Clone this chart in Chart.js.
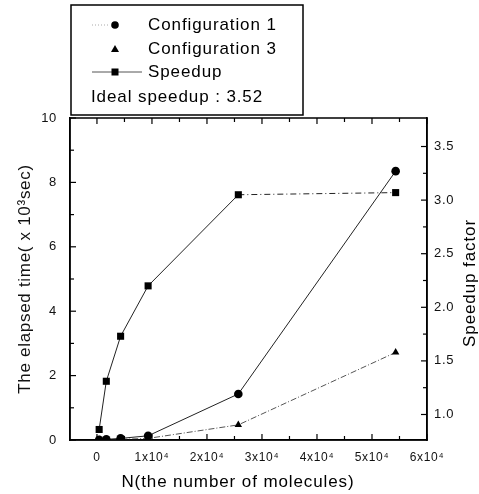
<!DOCTYPE html>
<html><head><meta charset="utf-8">
<script src="https://cdn.jsdelivr.net/npm/chart.js@4.4.0/dist/chart.umd.min.js"></script>
<style>html,body{margin:0;padding:0;background:#fff}#wrap{width:479px;height:494px}</style>
</head><body><div id="wrap"><canvas id="c" width="479" height="494"></canvas></div>
<script>
const molecules = [400, 1700, 4300, 9300, 25700, 54300];
const config1Time = [0.01, 0.02, 0.05, 0.13, 1.43, 8.35];
const config3Time = [0.005, 0.01, 0.02, 0.05, 0.47, 2.72];
const speedup = [0.86, 1.31, 1.73, 2.20, 3.05, 3.07];
const xTicks = [0, 10000, 20000, 30000, 40000, 50000, 60000];
const xMinorTicks = [5000, 15000, 25000, 35000, 45000, 55000];
const timeTicks = [0, 2, 4, 6, 8, 10];
const timeMinorTicks = [1, 3, 5, 7, 9];
const speedTicks = [1.0, 1.5, 2.0, 2.5, 3.0, 3.5];
const speedMinorTicks = [1.25, 1.75, 2.25, 2.75, 3.25];
const legendLabels = ['Configuration 1', 'Configuration 3', 'Speedup'];
const legendNote = 'Ideal speedup : 3.52';
const xTitle = 'N(the number of molecules)';
const yTitle = 'The elapsed time( x 10\u00B3sec)';
const y2Title = 'Speedup factor';

const FAMILY = '"Liberation Sans", Arial, Helvetica, sans-serif';
Chart.defaults.font.family = FAMILY;
Chart.defaults.color = '#111';

const pts = ys => molecules.map((x, i) => ({x, y: ys[i]}));

const decor = {
  id: 'decor',
  beforeDraw(chart) {
    chart.ctx.letterSpacing = '0.7px';
  },
  afterDraw(chart) {
    const ctx = chart.ctx;
    const a = chart.chartArea;
    const sx = chart.scales.x, sy = chart.scales.y, sy2 = chart.scales.y2;
    ctx.save();
    ctx.strokeStyle = '#000';
    ctx.fillStyle = '#000';
    // frame
    ctx.lineWidth = 1.5;
    ctx.strokeRect(a.left, a.top, a.right - a.left, a.bottom - a.top);
    // inward ticks
    ctx.lineWidth = 1.2;
    const tick = (x1, y1, x2, y2) => { ctx.beginPath(); ctx.moveTo(x1, y1); ctx.lineTo(x2, y2); ctx.stroke(); };
    xTicks.forEach(v => { const x = sx.getPixelForValue(v); tick(x, a.bottom, x, a.bottom - 6); tick(x, a.top, x, a.top + 6); });
    xMinorTicks.forEach(v => { const x = sx.getPixelForValue(v); tick(x, a.bottom, x, a.bottom - 4); tick(x, a.top, x, a.top + 4); });
    timeTicks.forEach(v => { const y = sy.getPixelForValue(v); tick(a.left, y, a.left + 6, y); });
    timeMinorTicks.forEach(v => { const y = sy.getPixelForValue(v); tick(a.left, y, a.left + 4, y); });
    speedTicks.forEach(v => { const y = sy2.getPixelForValue(v); tick(a.right, y, a.right - 6, y); });
    speedMinorTicks.forEach(v => { const y = sy2.getPixelForValue(v); tick(a.right, y, a.right - 4, y); });

    // axis titles
    ctx.font = '17px ' + FAMILY;
    ctx.letterSpacing = '0.9px';
    ctx.textAlign = 'center';
    ctx.textBaseline = 'middle';
    ctx.fillText(xTitle, 238, 482);
    ctx.save();
    ctx.translate(470, 283);
    ctx.rotate(-Math.PI / 2);
    ctx.fillText(y2Title, 0, 0);
    ctx.restore();

    // legend box
    ctx.lineWidth = 1.5;
    ctx.strokeRect(71, 5, 232, 110);
    ctx.font = '17px ' + FAMILY;
    ctx.letterSpacing = '0.9px';
    ctx.textAlign = 'left';
    const rows = [25, 49, 72];
    legendLabels.forEach((t, i) => ctx.fillText(t, 148, rows[i]));
    ctx.fillText(legendNote, 91, 97);
    // legend symbols
    ctx.save();
    ctx.strokeStyle = '#aaa'; ctx.lineWidth = 1; ctx.setLineDash([1, 2]);
    tick(92, rows[0], 110, rows[0]);
    ctx.restore();
    ctx.beginPath(); ctx.arc(115, rows[0], 3.8, 0, Math.PI * 2); ctx.fill();
    ctx.beginPath(); ctx.moveTo(115, rows[1] - 4); ctx.lineTo(119, rows[1] + 3); ctx.lineTo(111, rows[1] + 3); ctx.closePath(); ctx.fill();
    ctx.save(); ctx.strokeStyle = '#555'; ctx.lineWidth = 1; tick(92, rows[2], 142, rows[2]); ctx.restore();
    ctx.fillRect(111.5, rows[2] - 3.5, 7, 7);
    ctx.restore();
  }
};

new Chart(document.getElementById('c'), {
  type: 'scatter',
  data: {
    datasets: [
      {
        label: legendLabels[0], data: pts(config1Time), yAxisID: 'y', showLine: true,
        borderColor: '#222', borderWidth: 1, pointStyle: 'circle', pointRadius: 4.3,
        pointBackgroundColor: '#000', pointBorderColor: '#000', pointBorderWidth: 0
      },
      {
        label: legendLabels[1], data: pts(config3Time), yAxisID: 'y', showLine: true,
        borderColor: '#555', borderWidth: 1, borderDash: [6, 2, 1, 2], pointStyle: 'triangle', pointRadius: 4.3,
        pointBackgroundColor: '#000', pointBorderColor: '#000', pointBorderWidth: 0
      },
      {
        label: legendLabels[2], data: pts(speedup), yAxisID: 'y2', showLine: true,
        borderColor: '#222', borderWidth: 1, pointStyle: 'rect', pointRadius: 5,
        pointBackgroundColor: '#000', pointBorderColor: '#000', pointBorderWidth: 0,
        segment: { borderDash: c => c.p0DataIndex === 4 ? [6, 3, 1, 3] : undefined }
      }
    ]
  },
  options: {
    responsive: false, animation: false, devicePixelRatio: 1,
    layout: { padding: { top: 118, left: 0, right: 0, bottom: 0 } },
    plugins: { legend: { display: false }, tooltip: { enabled: false } },
    scales: {
      x: {
        type: 'linear', min: -4900, max: 60000,
        afterBuildTicks: s => { s.ticks = xTicks.map(v => ({value: v})); },
        afterFit: s => { s.height = 54; },
        grid: { drawOnChartArea: false, drawTicks: false },
        border: { display: true, color: '#000', width: 1.5 },
        ticks: { padding: 10, font: { size: 12 }, maxRotation: 0, autoSkip: false,
          callback: v => v === 0 ? '0' : (v / 10000) + 'x10\u2074' }
      },
      y: {
        position: 'left', min: 0, max: 10,
        afterBuildTicks: s => { s.ticks = timeTicks.map(v => ({value: v})); },
        afterFit: s => { s.width = 70; },
        grid: { drawOnChartArea: false, drawTicks: false },
        border: { display: true, color: '#000', width: 1.5 },
        ticks: { padding: 13, font: { size: 13 }, autoSkip: false },
        title: { display: true, text: yTitle, font: { size: 17 }, padding: { top: 15, bottom: 0 } }
      },
      y2: {
        position: 'right', min: 0.762, max: 3.766,
        afterBuildTicks: s => { s.ticks = speedTicks.map(v => ({value: v})); },
        afterFit: s => { s.width = 52; },
        grid: { drawOnChartArea: false, drawTicks: false },
        border: { display: true, color: '#000', width: 1.5 },
        ticks: { padding: 7, font: { size: 13 }, autoSkip: false, callback: v => Number(v).toFixed(1) }
      }
    }
  },
  plugins: [decor]
});
</script></body></html>
